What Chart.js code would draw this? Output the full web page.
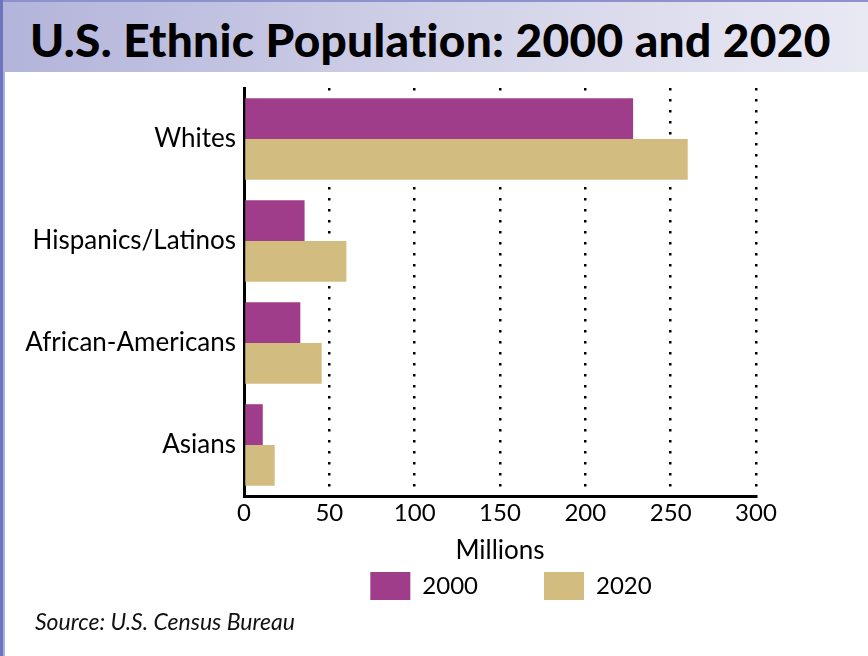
<!DOCTYPE html>
<html lang="en">
<head>
  <meta charset="UTF-8" />
  <title>U.S. Ethnic Population: 2000 and 2020</title>
  <script src="https://cdn.jsdelivr.net/npm/chart.js"></script>
  <style>
    body {
      margin: 0;
      width: 868px;
      height: 656px;
      background: #fff;
      font-family: Lato, sans-serif;
      overflow: hidden;
      position: relative;
    }
    .frame {
      position: absolute;
      left: 0; top: 0;
      width: 868px; height: 656px;
      border-left: 3px solid #6e73bd;
      box-shadow: inset 2px 0 0 #a9aee3;
      box-sizing: border-box;
    }
    .header {
      position: absolute;
      left: 3px; top: 0;
      width: 865px; height: 72px;
      border-top: 2px solid #8d92cc;
      box-sizing: border-box;
      background: linear-gradient(to right, #b3b4da, #d6d6ea 60%, #e9e9f4);
    }
    .header h1 {
      margin: 0;
      padding: 5px 0 0 27px;
      font-size: 46px;
      line-height: 66px;
      font-weight: 900;
      color: #000;
      letter-spacing: 0.3px;
      white-space: nowrap;
    }
    .chart-box {
      position: absolute;
      left: 5px; top: 72px;
      width: 863px; height: 548px;
    }
    .source {
      position: absolute;
      left: 35px; top: 607px;
      font-size: 23px;
      font-style: italic;
      color: #111;
    }
  </style>
</head>
<body>
  <div class="frame"></div>
  <div class="header"><h1>U.S. Ethnic Population: 2000 and 2020</h1></div>
  <div class="chart-box"><canvas id="popChart"></canvas></div>
  <div class="source">Source: U.S. Census Bureau</div>

  <script>
    const groups = ['Whites', 'Hispanics/Latinos', 'African-Americans', 'Asians'];
    const pop2000 = [228, 35.5, 33, 11];
    const pop2020 = [260, 60, 45.5, 18];
    const xTicks = [0, 50, 100, 150, 200, 250, 300];

    // legend sits a bit right of the plot centre and lower than chart.js puts it
    const legendSpot = {
      id: 'legendSpot',
      afterLayout(chart) {
        const lg = chart.legend;
        lg.left += 11;
        lg.right += 11;
        lg.top = 434;
      }
    };

    new Chart(document.getElementById('popChart'), {
      type: 'bar',
      data: {
        labels: groups,
        datasets: [
          { label: '2000', data: pop2000, backgroundColor: '#9f3d8b' },
          { label: '2020', data: pop2020, backgroundColor: '#d2bc80' }
        ]
      },
      options: {
        indexAxis: 'y',
        responsive: true,
        maintainAspectRatio: false,
        animation: false,
        datasets: { bar: { barPercentage: 1, categoryPercentage: 0.8 } },
        layout: { padding: { top: 16, right: 112, left: 0, bottom: 0 } },
        plugins: {
          tooltip: { enabled: false },
          legend: {
            position: 'bottom',
            fullSize: false,
            maxHeight: 54,
            labels: {
              boxWidth: 40,
              boxHeight: 28,
              padding: 66,
              color: '#000',
              font: { family: 'Lato', size: 24 }
            }
          }
        },
        scales: {
          x: {
            min: 0,
            max: 300,
            afterBuildTicks: s => { s.ticks = xTicks.map(v => ({ value: v })); },
            afterFit: s => { s.height = 70; },
            border: { display: true, color: '#000', width: 3, dash: [2.5, 8.5] },
            grid: {
              color: ctx => ctx.tick && ctx.tick.value === 0 ? 'rgba(0,0,0,0)' : '#000',
              lineWidth: 2.5,
              drawTicks: false
            },
            ticks: {
              padding: 3,
              color: '#000',
              font: { family: 'Lato', size: 24 }
            },
            title: {
              display: true,
              text: 'Millions',
              color: '#000',
              padding: { top: 0, bottom: 0 },
              font: { family: 'Lato', size: 26 }
            }
          },
          y: {
            afterFit: s => { s.width = 239; s.paddingTop = 0; s.paddingBottom = 0; },
            border: { display: true, color: '#000', width: 3 },
            grid: { display: false, drawTicks: false },
            ticks: {
              padding: 8,
              color: '#000',
              font: { family: 'Lato', size: 26 }
            }
          }
        }
      },
      plugins: [legendSpot]
    });
  </script>
</body>
</html>
